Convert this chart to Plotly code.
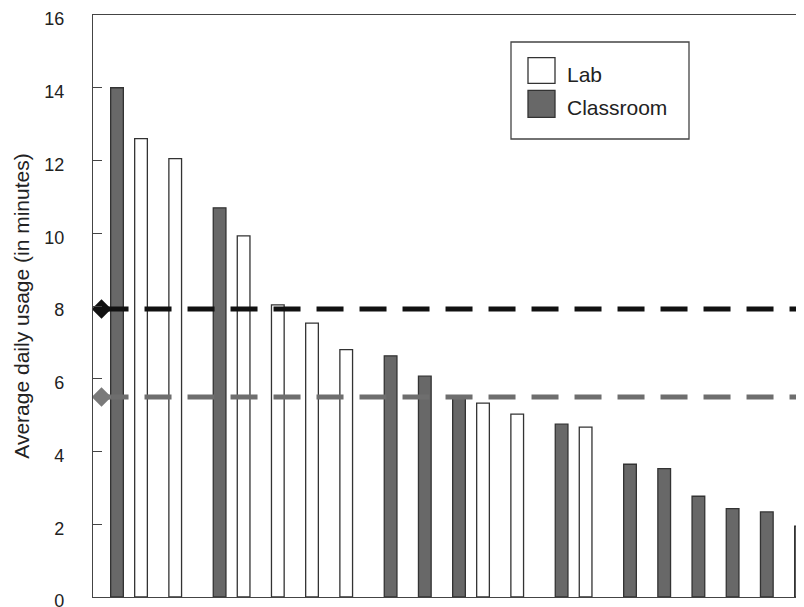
import plotly.graph_objects as go

# ---- data ----
usage = [14.0, 12.6, 12.05, 10.7, 9.93, 8.03, 7.53, 6.8, 6.63, 6.07, 5.52,
         5.33, 5.03, 4.75, 4.67, 3.65, 3.53, 2.77, 2.43, 2.34, 1.95]
setting = ["Classroom", "Lab", "Lab", "Classroom", "Lab", "Lab", "Lab", "Lab",
           "Classroom", "Classroom", "Classroom", "Lab", "Lab", "Classroom", "Lab",
           "Classroom", "Classroom", "Classroom", "Classroom", "Classroom", "Classroom"]
series_names = ["Lab", "Classroom"]
mean_usage = {"Lab": 7.92, "Classroom": 5.5}
y_ticks = [0, 2, 4, 6, 8, 10, 12, 14, 16]
y_title = "Average daily usage (in minutes)"

# ---- styling ----
FONT = "Liberation Sans, Arial, Helvetica, sans-serif"
fill = {"Lab": "#ffffff", "Classroom": "#686868"}
line_col = {"Lab": "#111111", "Classroom": "#6e6e6e"}
marker_col = {"Lab": "#111111", "Classroom": "#7a7a7a"}
BAR_W = 0.371
slot = {"Lab": -0.149, "Classroom": 0.149}
# the page body has an 8px margin; the figure is offset by it
OFF = 8
L, T, B = 93 - OFF, 15 - OFF, 18
FIG_W, FIG_H = 804, 607
W = FIG_W - L
H = FIG_H - T - B
X_RANGE = [-0.553, -0.553 + W / 34.2]
MARK_X = -0.304

teachers = list(range(len(usage)))

fig = go.Figure()
for name in series_names:
    yv = [u if s == name else None for u, s in zip(usage, setting)]
    fig.add_trace(go.Bar(
        x=teachers, y=yv, name=name, width=BAR_W,
        offset=slot[name] - BAR_W / 2,
        marker=dict(color=fill[name], line=dict(color="#333333", width=1.3)),
        showlegend=False,
    ))

for name in series_names:
    m = mean_usage[name]
    fig.add_trace(go.Scatter(
        x=[MARK_X, X_RANGE[1] + 1], y=[m, m], mode="lines",
        line=dict(color=line_col[name], width=5, dash="27px,16px"),
        showlegend=False, hoverinfo="skip",
    ))
    fig.add_trace(go.Scatter(
        x=[MARK_X], y=[m], mode="markers",
        marker=dict(symbol="diamond", size=15, color=marker_col[name],
                    line=dict(width=0)),
        cliponaxis=False, showlegend=False,
    ))

# ---- manual legend (positions given in page pixels) ----
def px(xp):
    return (xp - OFF - L) / W
def py(yp):
    return (T + H - (yp - OFF)) / H

fig.add_shape(type="rect", xref="paper", yref="paper",
              x0=px(511), x1=px(689), y0=py(139), y1=py(42),
              line=dict(color="#444444", width=1.3), fillcolor="white", layer="above")
legend_rows = {"Lab": (57.7, 83.3), "Classroom": (90.3, 117.3)}
for name in series_names:
    top, bot = legend_rows[name]
    fig.add_shape(type="rect", xref="paper", yref="paper",
                  x0=px(528), x1=px(555), y0=py(bot), y1=py(top),
                  line=dict(color="#333333", width=1.3), fillcolor=fill[name],
                  layer="above")
    fig.add_annotation(xref="paper", yref="paper", x=px(565), y=py((top + bot) / 2 + 4),
                       text=name, showarrow=False, xanchor="left", yanchor="middle",
                       font=dict(family=FONT, size=21, color="#222222"))

fig.update_layout(
    width=FIG_W, height=FIG_H,
    margin=dict(l=L, r=0, t=T, b=B, autoexpand=False),
    paper_bgcolor="white", plot_bgcolor="white",
    barmode="overlay",
    font=dict(family=FONT, size=18, color="#222222"),
    showlegend=False,
)
fig.update_xaxes(range=X_RANGE, showline=True, mirror=True, linecolor="#444444",
                 linewidth=1.3, showticklabels=False, ticks="", showgrid=False,
                 zeroline=False)
fig.update_yaxes(range=[0, 16], tickvals=y_ticks, ticks="inside", ticklen=9,
                 tickcolor="#444444", tickwidth=1.2,
                 showline=True, linecolor="#444444", linewidth=1.3,
                 showgrid=False, zeroline=False, ticklabelstandoff=24,
                 ticklabelshift=4, ticklabeloverflow="allow",
                 tickfont=dict(size=18),
                 title=dict(text=y_title, font=dict(size=21), standoff=8))

fig.write_html("out.html")
